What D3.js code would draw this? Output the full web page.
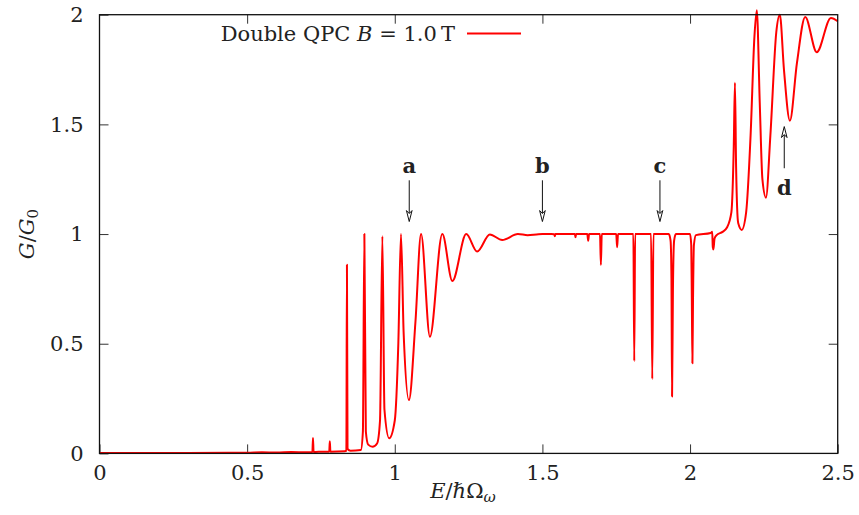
<!DOCTYPE html>
<html>
<head>
<meta charset="utf-8">
<script src="https://cdn.jsdelivr.net/npm/d3@7"></script>
<style>
  html, body { margin: 0; padding: 0; background: #fff; overflow: hidden; }
  svg { display: block; }
  svg text { font-family: "DejaVu Serif", "Liberation Serif", serif; fill: #222; }
</style>
</head>
<body>
<div id="chart"></div>
<script>
// Conductance trace (energy E/hbar*Omega, conductance G/G0)
const energy = [
  0, 0.30, 0.50, 0.55, 0.60, 0.65, 0.70, 0.721, 0.723, 0.725,
  0.76, 0.778, 0.780, 0.782, 0.83, 0.836, 0.838, 0.840, 0.85,
  0.885, 0.892, 0.897, 0.902, 0.91, 0.925, 0.94, 0.95, 0.958, 0.965, 0.981,
  1.0, 1.012, 1.021, 1.03, 1.048, 1.07, 1.089, 1.119, 1.161, 1.195,
  1.242, 1.279, 1.322, 1.364, 1.417, 1.45, 1.48, 1.50,
  1.53, 1.540, 1.542, 1.544, 1.61, 1.612, 1.614, 1.652, 1.655, 1.658,
  1.695, 1.698, 1.701, 1.750, 1.753, 1.756, 1.808, 1.811, 1.814,
  1.868, 1.872, 1.876, 1.928, 1.934, 1.937, 1.939, 1.942, 1.946, 1.952,
  2.0, 2.004, 2.006, 2.008, 2.010, 2.013, 2.02,
  2.07, 2.075, 2.077, 2.079, 2.083, 2.09, 2.11, 2.125, 2.14, 2.148, 2.152, 2.156, 2.163, 2.175,
  2.19, 2.205, 2.218, 2.226, 2.236, 2.245, 2.257, 2.272, 2.292, 2.304, 2.318, 2.338,
  2.362, 2.39, 2.429, 2.477, 2.5
];
const conductance = [
  0.002, 0.002, 0.003, 0.005, 0.004, 0.006, 0.005, 0.006, 0.07, 0.006,
  0.008, 0.008, 0.055, 0.008, 0.01, 0.012, 0.86, 0.02, 0.012,
  0.015, 0.1, 1.0, 0.1, 0.04, 0.03, 0.045, 0.15, 0.99, 0.2, 0.069,
  0.15, 0.5, 1.0, 0.55, 0.243, 0.6, 1.0, 0.532, 1.0, 0.786,
  1.0, 0.92, 0.998, 0.973, 1.0, 0.995, 0.998, 1.0,
  1.0, 0.999, 0.99, 1.0, 1.0, 0.985, 1.0, 1.0, 0.97, 1.0,
  1.0, 0.859, 1.0, 1.0, 0.94, 1.0, 1.0, 0.421, 1.0,
  1.0, 0.339, 1.0, 1.0, 0.97, 0.8, 0.259, 0.75, 0.97, 1.0,
  1.0, 0.95, 0.7, 0.411, 0.7, 0.95, 0.995,
  1.005, 1.01, 0.94, 0.93, 0.98, 0.995, 1.01, 1.03, 1.1, 1.4, 1.69, 1.3, 1.05, 1.019,
  1.1, 1.45, 1.9, 2.02, 1.6, 1.25, 1.166, 1.45, 1.92, 2.0, 1.75, 1.517,
  1.78, 1.99, 1.829, 1.985, 1.97
];

const xTicks = [0, 0.5, 1, 1.5, 2, 2.5];
const yTicks = [0, 0.5, 1, 1.5, 2];
const xTickLabels = ['0', '0.5', '1', '1.5', '2', '2.5'];
const yTickLabels = ['0', '0.5', '1', '1.5', '2'];

// Annotated energies: arrows a-c point down onto the plateau, d points up
const markLabels = ['a', 'b', 'c', 'd'];
const markE = [1.049, 1.5, 1.898, 2.319];
const markTail = [1.245, 1.245, 1.245, 1.30];
const markTip = [1.057, 1.057, 1.057, 1.49];
const markText = [1.28, 1.28, 1.28, 1.18];

const width = 859, height = 515;
const margin = { top: 14.7, right: 21.3, bottom: 61.6, left: 99.5 };
const innerWidth = width - margin.left - margin.right;
const innerHeight = height - margin.top - margin.bottom;

const svg = d3.select('#chart')
  .append('svg')
  .attr('width', width)
  .attr('height', height);

const g = svg.append('g')
  .attr('transform', `translate(${margin.left},${margin.top})`);

const x = d3.scaleLinear().domain([0, 2.5]).range([0, innerWidth]);
const y = d3.scaleLinear().domain([0, 2]).range([innerHeight, 0]);

const fontSize = 21;
const subSize = 15;
const tickLen = 9;
const serif = '"DejaVu Serif", serif';

// Inward ticks on all four sides (gnuplot mirror style)
const axisB = d3.axisBottom(x).tickValues(xTicks).tickSize(-tickLen).tickPadding(tickLen + 6)
  .tickFormat((d, i) => xTickLabels[i]);
const axisL = d3.axisLeft(y).tickValues(yTicks).tickSize(-tickLen).tickPadding(tickLen + 7)
  .tickFormat((d, i) => yTickLabels[i]);
const axisT = d3.axisTop(x).tickValues(xTicks.slice(1, -1)).tickSize(-tickLen);
const axisR = d3.axisRight(y).tickValues(yTicks.slice(1, -1)).tickSize(-tickLen);

const gx = g.append('g').attr('transform', `translate(0,${innerHeight})`).call(axisB);
const gy = g.append('g').call(axisL);
const gt = g.append('g').call(axisT);
const gr = g.append('g').attr('transform', `translate(${innerWidth},0)`).call(axisR);
gt.selectAll('text').remove();
gr.selectAll('text').remove();

g.selectAll('.domain').remove();
g.selectAll('.tick line').attr('stroke', '#333').attr('stroke-width', 1);
[gx, gy].forEach(a => a.attr('font-family', serif).attr('font-size', fontSize));
g.selectAll('.tick text').attr('fill', '#222');
gx.selectAll('.tick text').attr('dy', '0.55em');
gy.selectAll('.tick text').attr('dy', '0.32em');

// Conductance curve
const points = energy.map((e, i) => [e, conductance[i]]);
const line = d3.line()
  .x(d => x(d[0]))
  .y(d => y(d[1]))
  .curve(d3.curveMonotoneX);

g.append('path')
  .datum(points)
  .attr('fill', 'none')
  .attr('stroke', '#ff0000')
  .attr('stroke-width', 2)
  .attr('stroke-linejoin', 'round')
  .attr('d', line);

// Border
g.append('rect')
  .attr('width', innerWidth)
  .attr('height', innerHeight)
  .attr('fill', 'none')
  .attr('stroke', '#111')
  .attr('stroke-width', 1.3);

// Arrows with open heads
markE.forEach((e, i) => {
  const px = x(e);
  const y0 = y(markTail[i]);
  const y1 = y(markTip[i]);
  const dir = y1 > y0 ? 1 : -1;
  g.append('line')
    .attr('x1', px).attr('x2', px)
    .attr('y1', y0).attr('y2', y1 - dir * 8)
    .attr('stroke', '#111').attr('stroke-width', 1);
  g.append('path')
    .attr('d', `M${px},${y1} L${px - 2.8},${y1 - dir * 11} L${px},${y1 - dir * 8} L${px + 2.8},${y1 - dir * 11} Z`)
    .attr('fill', '#fff').attr('stroke', '#111').attr('stroke-width', 1);
  g.append('text')
    .attr('x', px)
    .attr('y', y(markText[i]))
    .attr('text-anchor', 'middle')
    .style('font-size', fontSize + 'px')
    .style('font-weight', 'bold')
    .text(markLabels[i]);
});

// Legend
const legend = svg.append('g');
const legText = legend.append('text')
  .attr('x', 455)
  .attr('y', 41)
  .attr('text-anchor', 'end')
  .style('font-size', fontSize + 'px');
legText.append('tspan').text('Double QPC ');
legText.append('tspan').style('font-style', 'italic').text('B');
legText.append('tspan').text(' = 1.0\u2009T');
legend.append('line')
  .attr('x1', 467).attr('x2', 521)
  .attr('y1', 33.5).attr('y2', 33.5)
  .attr('stroke', '#ff0000').attr('stroke-width', 2);

// Axis titles
const xt = svg.append('text')
  .attr('x', 463)
  .attr('y', 498)
  .attr('text-anchor', 'middle')
  .style('font-size', fontSize + 'px');
xt.append('tspan').style('font-style', 'italic').text('E');
xt.append('tspan').text('/');
xt.append('tspan').style('font-style', 'italic').text('\u210F');
xt.append('tspan').text('\u03A9');
xt.append('tspan').style('font-style', 'italic').style('font-size', subSize + 'px')
  .attr('baseline-shift', '-25%').text('\u03C9');

const yt = svg.append('text')
  .attr('transform', `translate(34,${margin.top + innerHeight / 2}) rotate(-90)`)
  .attr('text-anchor', 'middle')
  .style('font-size', fontSize + 'px');
yt.append('tspan').style('font-style', 'italic').text('G');
yt.append('tspan').text('/');
yt.append('tspan').style('font-style', 'italic').text('G');
yt.append('tspan').style('font-size', subSize + 'px').attr('baseline-shift', '-25%').text('0');
</script>
</body>
</html>
